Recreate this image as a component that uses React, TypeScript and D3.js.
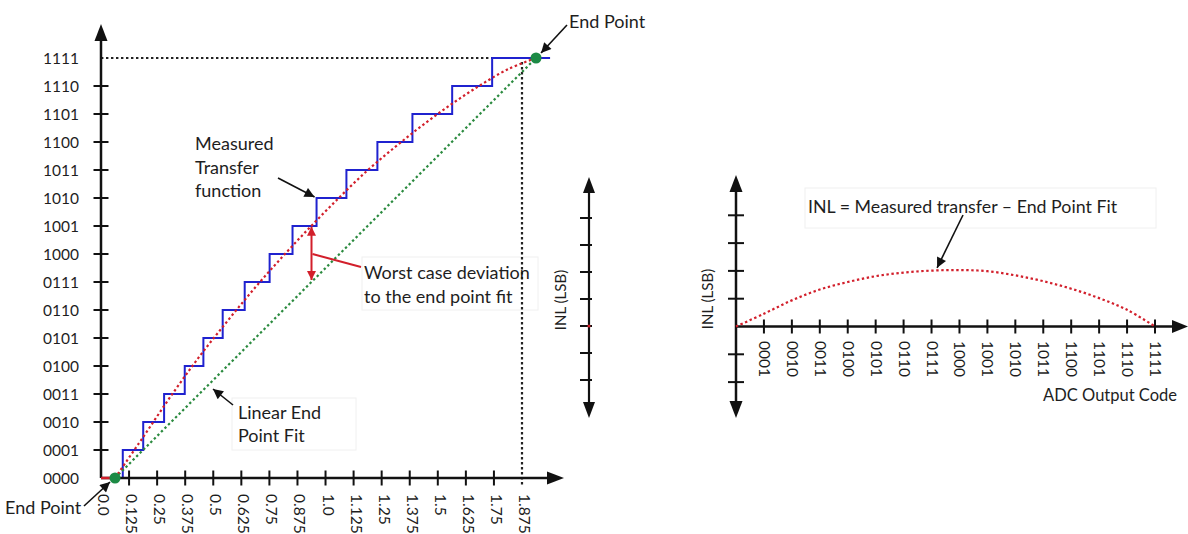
import React from "react";
import * as d3 from "d3";

// ADC transfer function (4-bit) and its integral non-linearity
const codeLabels = [
  "0000", "0001", "0010", "0011", "0100", "0101", "0110", "0111",
  "1000", "1001", "1010", "1011", "1100", "1101", "1110", "1111",
];
const inputTickValues = [
  0, 0.125, 0.25, 0.375, 0.5, 0.625, 0.75, 0.875,
  1.0, 1.125, 1.25, 1.375, 1.5, 1.625, 1.75, 1.875,
];
const inputTickLabels = [
  "0.0", "0.125", "0.25", "0.375", "0.5", "0.625", "0.75", "0.875",
  "1.0", "1.125", "1.25", "1.375", "1.5", "1.625", "1.75", "1.875",
];
// input voltage at which the measured output steps up to code 1..15
const stepEdges = [
  0.097, 0.188, 0.281, 0.373, 0.456, 0.542, 0.64, 0.751,
  0.853, 0.96, 1.093, 1.231, 1.387, 1.564, 1.742,
];
const stairStart = 0.0625;
const stairEnd = 2.0;
// end points of the linear fit (input, code)
const fitStart = 0.0625;
const fitEnd = 1.9375;
// INL in LSB for each output code
const inlValues = [
  0, 0.46, 0.94, 1.33, 1.6, 1.81, 1.94, 2.01,
  2.03, 1.99, 1.84, 1.63, 1.36, 1.02, 0.6, 0,
];
const inlTicks = [-2, -1, 1, 2, 3, 4];
const midAxisTicks = [-2, -1, 0, 1, 2, 3, 4];
const worstCode = 7;

const FONT = "Lato, 'Open Sans', sans-serif";
const TEXT = "#1e1e1e";
const BLUE = "#1f22cf";
const RED = "#d21f2b";
const GREEN = "#2a8a3e";
const DOT_GREEN = "#1c8a45";

export default function App() {
  // left chart scales
  const xs = d3.scaleLinear().domain([0, 1.875]).range([101, 522]);
  const ys = d3.scaleLinear().domain([0, 15]).range([478, 58]);

  // right chart scales
  const rx = d3.scaleLinear().domain([0, 15]).range([736, 1155]);
  const ry = d3.scaleLinear().domain([0, 1]).range([326.5, 298.7]);

  // middle stand-alone INL axis
  const my = d3.scaleLinear().domain([0, 1]).range([326, 299]);

  const stairPts: [number, number][] = [[stairStart, 0]];
  stepEdges.forEach((e, i) => stairPts.push([e, i + 1]));
  stairPts.push([stairEnd, 15]);
  const stairPath = d3
    .line<[number, number]>()
    .x((d) => xs(d[0]))
    .y((d) => ys(d[1]))
    .curve(d3.curveStepAfter)(stairPts);

  const fitStep = (fitEnd - fitStart) / 15;
  const measuredPts: [number, number][] = inlValues.map((v, c) => [
    fitStart + c * fitStep,
    c + v,
  ]);
  const measuredPath = d3
    .line<[number, number]>()
    .x((d) => xs(d[0]))
    .y((d) => ys(d[1]))
    .curve(d3.curveCatmullRom)(measuredPts);

  const inlPath = d3
    .line<number>()
    .x((_, i) => rx(i))
    .y((d) => ry(d))
    .curve(d3.curveCatmullRom)(inlValues);

  const wx = xs(fitStart + worstCode * fitStep);
  const wTop = ys(worstCode + inlValues[worstCode]);
  const wBot = ys(worstCode);

  const dotted = { strokeDasharray: "2.4 2.6", strokeWidth: 2.2, fill: "none" };

  return (
    <svg
      width={1188}
      height={534}
      style={{ position: "absolute", left: 0, top: 0, background: "#fff" }}
      fontFamily={FONT}
    >
      <defs>
        <marker
          id="ah"
          viewBox="0 0 10 10"
          refX="10"
          refY="5"
          markerWidth="12"
          markerHeight="10"
          markerUnits="userSpaceOnUse"
          orient="auto-start-reverse"
        >
          <path d="M0,0 L10,5 L0,10 z" fill="#111" />
        </marker>
        <marker
          id="ahr"
          viewBox="0 0 10 10"
          refX="10"
          refY="5"
          markerWidth="11"
          markerHeight="9"
          markerUnits="userSpaceOnUse"
          orient="auto-start-reverse"
        >
          <path d="M0,0 L10,5 L0,10 z" fill={RED} />
        </marker>
      </defs>

      {/* faint label boxes */}
      <g fill="#fff" stroke="#f0f0f0" strokeWidth={1}>
        <rect x={362} y={257} width={176} height={53} />
        <rect x={232} y={398} width={124} height={52} />
        <rect x={805} y={188} width={351} height={40} />
      </g>

      {/* ---------- left: transfer function ---------- */}
      {/* reference dotted lines to full scale */}
      <line x1={xs(0)} x2={xs(fitEnd)} y1={ys(15)} y2={ys(15)} stroke="#222" {...dotted} />
      <line x1={xs(1.875)} x2={xs(1.875)} y1={ys(15) + 4} y2={487} stroke="#222" {...dotted} />

      {/* measured staircase */}
      <path d={stairPath || ""} fill="none" stroke={BLUE} strokeWidth={2} />

      {/* axes */}
      <g stroke="#111" strokeWidth={2.5}>
        <line x1={xs(0)} x2={xs(0)} y1={ys(0)} y2={38} />
        <line x1={xs(0)} x2={550} y1={ys(0)} y2={ys(0)} />
      </g>
      <path d={`M${xs(0)},24 L${xs(0) - 6.5},41 L${xs(0) + 6.5},41 Z`} fill="#111" />
      <path d={`M564,${ys(0)} L547,${ys(0) - 6.5} L547,${ys(0) + 6.5} Z`} fill="#111" />

      <g stroke="#111" strokeWidth={2}>
        {codeLabels.slice(1, 15).map((_, i) => (
          <line key={i} x1={xs(0) - 7.5} x2={xs(0) + 7.5} y1={ys(i + 1)} y2={ys(i + 1)} />
        ))}
        {inputTickValues.slice(1, 15).map((v) => (
          <line key={v} x1={xs(v)} x2={xs(v)} y1={ys(0) - 7.5} y2={ys(0) + 7.5} />
        ))}
      </g>
      <g fontSize={15.5} fill={TEXT}>
        {codeLabels.map((c, i) => (
          <text key={c} x={79} y={ys(i)} textAnchor="end" dominantBaseline="central">
            {c}
          </text>
        ))}
      </g>
      <g fontSize={15.5} fill={TEXT}>
        {inputTickLabels.map((t, i) => (
          <text
            key={t}
            transform={`translate(${xs(inputTickValues[i]) + 3},${494}) rotate(90)`}
            dominantBaseline="central"
          >
            {t}
          </text>
        ))}
      </g>

      {/* end point fit and measured curve */}
      <line
        x1={xs(fitStart)}
        y1={ys(0)}
        x2={xs(fitEnd)}
        y2={ys(15)}
        stroke={GREEN}
        {...dotted}
      />
      <line x1={xs(0)} x2={xs(fitStart)} y1={ys(0)} y2={ys(0)} stroke={RED} strokeWidth={2.5} />
      <path d={measuredPath || ""} stroke={RED} {...dotted} />
      <circle cx={xs(fitStart)} cy={ys(0)} r={5.5} fill={DOT_GREEN} />
      <circle cx={xs(fitEnd)} cy={ys(15)} r={5.5} fill={DOT_GREEN} />

      {/* worst case deviation */}
      <line
        x1={wx}
        x2={wx}
        y1={wTop + 1}
        y2={wBot - 2}
        stroke={RED}
        strokeWidth={2}
        markerStart="url(#ahr)"
        markerEnd="url(#ahr)"
      />
      <line x1={wx + 1} y1={254} x2={361} y2={267} stroke={RED} strokeWidth={2} />

      {/* annotations */}
      <g fontSize={18} fill={TEXT}>
        <text x={569} y={28}>End Point</text>
        <text x={5} y={514}>End Point</text>
        <text x={195} y={150}>Measured</text>
        <text x={195} y={174}>Transfer</text>
        <text x={195} y={197}>function</text>
        <text x={364} y={279}>Worst case deviation</text>
        <text x={364} y={303}>to the end point fit</text>
        <text x={238} y={419}>Linear End</text>
        <text x={238} y={442}>Point Fit</text>
      </g>
      <g stroke="#111" strokeWidth={1.6}>
        <line x1={567} y1={25} x2={xs(fitEnd) + 5} y2={ys(15) - 5} markerEnd="url(#ah)" />
        <line x1={84} y1={506} x2={xs(fitStart) - 5} y2={ys(0) + 4} markerEnd="url(#ah)" />
        <line x1={278} y1={178} x2={xs(stepEdges[9]) - 2} y2={ys(10) - 1} markerEnd="url(#ah)" />
        <line x1={233} y1={405} x2={213} y2={389} markerEnd="url(#ah)" />
      </g>

      {/* ---------- middle: stand-alone INL axis ---------- */}
      <line x1={589} x2={589} y1={190} y2={405} stroke="#111" strokeWidth={2.2} />
      <path d="M589,177 L583,193 L595,193 Z" fill="#111" />
      <path d="M589,418 L583,402 L595,402 Z" fill="#111" />
      <g stroke="#111" strokeWidth={2}>
        {midAxisTicks.map((t) => (
          <line key={t} x1={580} x2={592} y1={my(t)} y2={my(t)} />
        ))}
      </g>
      <circle cx={589} cy={my(0)} r={1.6} fill={RED} />
      <text
        transform="translate(560,300) rotate(-90)"
        textAnchor="middle"
        dominantBaseline="central"
        fontSize={15}
        fill={TEXT}
      >
        INL (LSB)
      </text>

      {/* ---------- right: INL vs output code ---------- */}
      <g stroke="#111" strokeWidth={2.5}>
        <line x1={rx(0)} x2={rx(0)} y1={190} y2={404} />
        <line x1={rx(0)} x2={1174} y1={ry(0)} y2={ry(0)} />
      </g>
      <path d={`M${rx(0)},175 L${rx(0) - 6.5},192 L${rx(0) + 6.5},192 Z`} fill="#111" />
      <path d={`M${rx(0)},418 L${rx(0) - 6.5},401 L${rx(0) + 6.5},401 Z`} fill="#111" />
      <path d={`M1188,${ry(0)} L1172,${ry(0) - 6.5} L1172,${ry(0) + 6.5} Z`} fill="#111" />
      <g stroke="#111" strokeWidth={2}>
        {inlTicks.map((t) => (
          <line key={t} x1={rx(0) - 8} x2={rx(0) + 8} y1={ry(t)} y2={ry(t)} />
        ))}
        {codeLabels.slice(1).map((c, i) => (
          <line key={c} x1={rx(i + 1)} x2={rx(i + 1)} y1={ry(0) - 7} y2={ry(0) + 7} />
        ))}
      </g>
      <g fontSize={15.5} fill={TEXT}>
        {codeLabels.slice(1).map((c, i) => (
          <text
            key={c}
            transform={`translate(${rx(i + 1) + 1},${341}) rotate(90)`}
            dominantBaseline="central"
          >
            {c}
          </text>
        ))}
      </g>
      <path d={inlPath || ""} stroke={RED} {...dotted} />
      <text
        transform="translate(707,299) rotate(-90)"
        textAnchor="middle"
        dominantBaseline="central"
        fontSize={15}
        fill={TEXT}
      >
        INL (LSB)
      </text>
      <text x={1177} y={401} textAnchor="end" fontSize={16.5} fill={TEXT}>
        ADC Output Code
      </text>
      <text x={808} y={213} fontSize={17.8} fill={TEXT}>
        INL = Measured transfer – End Point Fit
      </text>
      <line
        x1={963}
        y1={215}
        x2={rx(7.2)}
        y2={ry(2.04) - 2}
        stroke="#111"
        strokeWidth={1.6}
        markerEnd="url(#ah)"
      />
    </svg>
  );
}
